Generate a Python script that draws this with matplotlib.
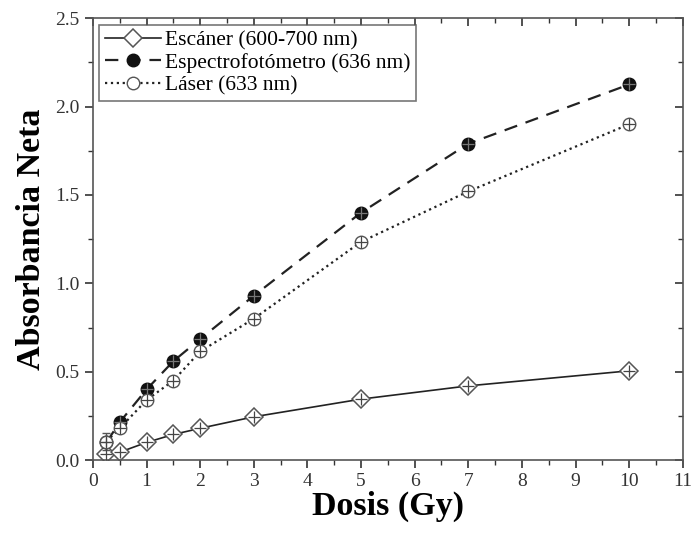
import matplotlib
matplotlib.use("Agg")
import matplotlib.pyplot as plt
from matplotlib.ticker import MultipleLocator

plt.rcParams['font.family'] = ['Liberation Serif', 'DejaVu Serif']

dosis = [0.25, 0.5, 1, 1.5, 2, 3, 5, 7, 10]
escaner = [0.035, 0.045, 0.10, 0.145, 0.18, 0.245, 0.345, 0.42, 0.505]
espectro = [0.10, 0.215, 0.40, 0.56, 0.685, 0.93, 1.40, 1.79, 2.125]
laser = [0.105, 0.18, 0.34, 0.45, 0.615, 0.80, 1.235, 1.52, 1.90]
laser_err = [0.05, 0.02, 0.02, 0.02, 0.02, 0.02, 0.02, 0.02, 0.02]

labels = ['Escáner (600-700 nm)', 'Espectrofotómetro (636 nm)', 'Láser (633 nm)']

fig = plt.figure(figsize=(6.96, 5.35), dpi=100)
ax = fig.add_axes([0.1336, 0.140, 0.8474, 0.826])

c = '#222222'
h1, = ax.plot(dosis, escaner, '-', color=c, lw=1.2, marker='D', ms=9, mfc='white', mec='#555555', mew=1.1, label=labels[0])
h2, = ax.plot(dosis, espectro, '--', color=c, lw=1.6, dashes=(6, 4), marker='o', ms=9, mfc='#111111', mec='#111111', label=labels[1])
ax.errorbar(dosis, laser, yerr=laser_err, fmt='none', ecolor='#555555', elinewidth=1, capsize=3)
h3, = ax.plot(dosis, laser, ':', color=c, lw=1.6, marker='o', ms=9, mfc='white', mec='#555555', mew=1.0, label=labels[2])
# cross marks inside markers
for ys, col in ((escaner, '#444444'), (espectro, '#777777'), (laser, '#444444')):
    ax.plot(dosis, ys, ls='none', marker='+', ms=8, color=col, mew=0.9, zorder=5)

ax.set_xlim(0, 11)
ax.set_ylim(0, 2.5)
ax.xaxis.set_major_locator(MultipleLocator(1))
ax.xaxis.set_minor_locator(MultipleLocator(0.5))
ax.yaxis.set_major_locator(MultipleLocator(0.5))
ax.yaxis.set_minor_locator(MultipleLocator(0.25))
ax.yaxis.set_major_formatter(matplotlib.ticker.FormatStrFormatter('%.1f'))
ax.tick_params(axis='both', which='major', direction='out', length=6, width=1.2, labelsize=14, colors='#333333')
ax.tick_params(axis='both', which='minor', direction='out', length=3.5, width=1.0, colors='#333333')
for s in ax.spines.values():
    s.set_color('#555555')
    s.set_linewidth(1.2)

# mirrored inward ticks on top and right
axt = ax.secondary_xaxis('top')
axt.xaxis.set_major_locator(MultipleLocator(1))
axt.xaxis.set_minor_locator(MultipleLocator(0.5))
axt.tick_params(which='major', direction='in', length=6, width=1.2, labeltop=False, colors='#333333')
axt.tick_params(which='minor', direction='in', length=3.5, width=1.0, labeltop=False, colors='#333333')
axr = ax.secondary_yaxis('right')
axr.yaxis.set_major_locator(MultipleLocator(0.5))
axr.yaxis.set_minor_locator(MultipleLocator(0.25))
axr.tick_params(which='major', direction='in', length=6, width=1.2, labelright=False, colors='#333333')
axr.tick_params(which='minor', direction='in', length=3.5, width=1.0, labelright=False, colors='#333333')
for sa in (axt, axr):
    for s in sa.spines.values():
        s.set_visible(False)

ax.set_xlabel('Dosis (Gy)', fontsize=24.5, fontweight='bold', labelpad=0)
ax.set_ylabel('Absorbancia Neta', fontsize=24.5, fontweight='bold', labelpad=6)

leg = ax.legend(handles=[h1, h2, h3], loc='upper left', fontsize=15.5, frameon=True, fancybox=False,
                edgecolor='#555555', handlelength=2.6, borderaxespad=0.3, labelspacing=0.12,
                handletextpad=0.2, markerscale=1.0, borderpad=0.25)
leg.get_frame().set_linewidth(1.2)

fig.savefig('out.png', dpi=100)
